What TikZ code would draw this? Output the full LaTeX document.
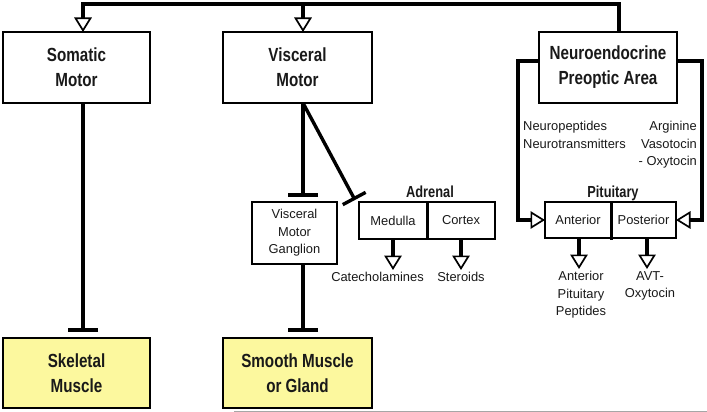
\documentclass[tikz,border=0pt]{standalone}
\usepackage{fontspec}
\setmainfont{Liberation Sans}
\newfontfamily\hfam{Liberation Sans}[FakeStretch=0.8]
\usetikzlibrary{arrows.meta,calc}
\definecolor{txt}{RGB}{25,25,25}
\definecolor{yel}{RGB}{252,248,158}
\tikzset{
  box/.style={draw=black, line width=1.8pt, rectangle, inner sep=0pt, outer sep=0pt, align=center, text=txt},
  big/.style={font=\hfam\bfseries\fontsize{19}{25}\selectfont},
  mid/.style={font=\hfam\bfseries\fontsize{16}{20}\selectfont, text=txt, inner sep=0pt},
  small/.style={font=\fontsize{12.9}{17.5}\selectfont, text=txt, inner sep=0pt},
  main/.style={line width=4pt},
  side/.style={line width=3.4pt},
  tri/.tip={Triangle[open, length=14.5pt, width=17.5pt, line width=1.7pt]},
  tee/.tip={Bar[width=30pt]},
  teed/.tip={Bar[width=26pt]},
}
\begin{document}
\begin{tikzpicture}[x=1pt,y=-1pt]
\useasboundingbox (0,0) rectangle (707,412);

% top-level boxes
\node[box, big, minimum width=147pt, minimum height=71pt] (som) at (76.5,67.5) {Somatic\\Motor};
\node[box, big, minimum width=149pt, minimum height=71pt] (vis) at (297.5,67.5) {Visceral\\Motor};
\node[box, big, minimum width=138pt, minimum height=71pt] (neu) at (608,67.5) {Neuroendocrine\\Preoptic Area};

% targets
\node[box, big, fill=yel, minimum width=147pt, minimum height=70pt] (skel) at (76.5,373) {Skeletal\\Muscle};
\node[box, big, fill=yel, minimum width=149pt, minimum height=70pt] (smooth) at (297.5,373) {Smooth Muscle\\or Gland};

% ganglion
\node[box, small, line width=1.6pt, minimum width=85pt, minimum height=62pt] (gang) at (294.5,233) {Visceral\\Motor\\Ganglion};

% adrenal
\node[box, small, line width=1.6pt, minimum width=68pt, minimum height=37pt] (med) at (393,220.5) {Medulla};
\node[box, small, line width=1.6pt, minimum width=68pt, minimum height=37pt] (cor) at (461,220.5) {Cortex};
\draw[line width=3pt] (med.north east) -- (med.south east);
\node[mid] (adr) at (430,192) {Adrenal};

% pituitary
\node[box, small, line width=1.6pt, minimum width=66pt, minimum height=36pt] (ant) at (578,220) {Anterior};
\node[box, small, line width=1.6pt, minimum width=65pt, minimum height=36pt] (post) at (643.5,220) {Posterior};
\draw[line width=3pt] (ant.north east) -- ([yshift=-2pt]ant.south east);
\node[mid] (pit) at (613,193) {Pituitary};

% labels
\node[small, anchor=north] (cat) at (377.5,272) {Catecholamines};
\node[small, anchor=north] (ster) at (461,272) {Steroids};
\node[small, anchor=north, align=center] (app) at (581,271) {Anterior\\Pituitary\\Peptides};
\node[small, anchor=north, align=center] (avt) at (650,271) {AVT-\\Oxytocin};
\node[small, anchor=north west, align=left] (np) at (523,121) {Neuropeptides\\Neurotransmitters};
\node[small, anchor=north east, align=right] (av) at (697,121) {Arginine\\Vasotocin\\- Oxytocin};

% top distribution line
\coordinate (topL) at (83,4);
\draw[main, -tri] ([xshift=11pt]neu.north) |- (topL) -- ([xshift=6.5pt]som.north);
\draw[main, -tri] ([xshift=5.5pt]vis.north |- topL) -- ([xshift=5.5pt]vis.north);

% somatic to skeletal
\draw[main, -tee, shorten >=6pt] ([xshift=6.5pt]som.south) -- ([xshift=6.5pt]som.south |- skel.north);

% visceral to ganglion, ganglion to smooth
\draw[main, -tee, shorten >=5pt] ([xshift=5.5pt]vis.south) -- ([xshift=5.5pt]vis.south |- gang.north);
\draw[main, -tee, shorten >=6pt] ([xshift=8.5pt]gang.south) -- ([xshift=8.5pt]gang.south |- smooth.north);

% visceral to adrenal medulla
\draw[side, -teed] ([xshift=5.5pt]vis.south) -- ($(med.north west)+(-4,-2)$);

% adrenal outputs
\draw[main, -tri, shorten >=2pt] (med.south) -- (med.south |- cat.north);
\draw[main, -tri, shorten >=2pt] (cor.south) -- (cor.south |- ster.north);

% neuroendocrine to pituitary
\draw[side, -tri] ([yshift=6.5pt]neu.west) -| ([xshift=-27pt]ant.west) -- (ant.west);
\draw[side, -tri] ([yshift=6.5pt]neu.east) -| ([xshift=26pt]post.east) -- (post.east);

% pituitary outputs
\draw[main, -tri, shorten >=2pt] ([xshift=1pt]ant.south) -- ([xshift=1pt]ant.south |- app.north);
\draw[main, -tri, shorten >=2pt] ([xshift=3.5pt]post.south) -- ([xshift=3.5pt]post.south |- avt.north);

% faint bottom rule
\draw[black!35, line width=1pt] (234,411) -- (707,411);
\end{tikzpicture}
\end{document}
